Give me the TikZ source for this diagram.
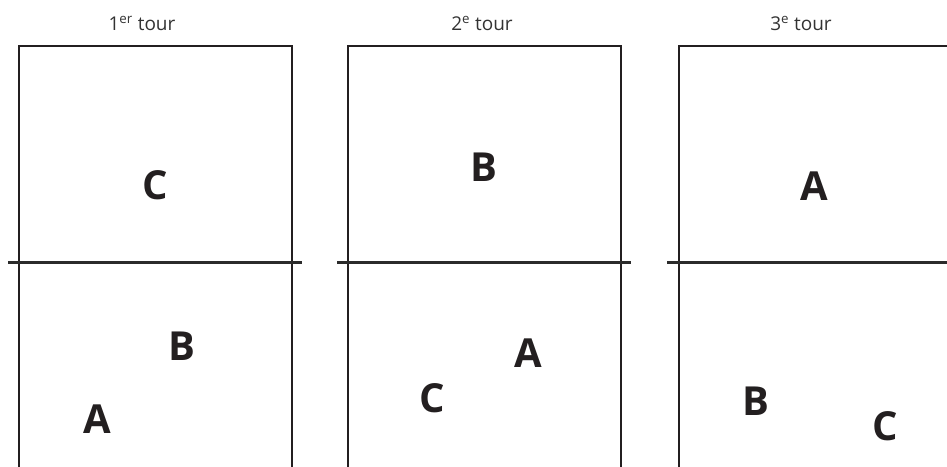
\documentclass[tikz,border=0pt]{standalone}
\usepackage{fontspec}
\setmainfont{Open Sans}
\usepackage{tikz}
\definecolor{court}{HTML}{231F20}
\definecolor{netc}{HTML}{2B2B2B}
\definecolor{titlec}{HTML}{333333}

\begin{document}
\begin{tikzpicture}[x=1pt, y=-1pt,
    player/.style={font=\fontsize{40}{40}\selectfont\bfseries, text=court, inner sep=0pt},
    roundtitle/.style={font=\fontsize{19}{19}\selectfont, text=titlec, anchor=base, inner sep=0pt}]
  \useasboundingbox (0,0) rectangle (947,466);
  \clip (0,0) rectangle (947,466);
  % three half-open courts with the net across (left/right side, net ends)
  \foreach \l/\r/\nl/\nr in {19/292/8/302, 348/621/337/631, 679/955/667/955}{
    \draw[court, line width=1.3pt] (\l,470) -- (\l,46) -- (\r,46) -- (\r,470);
    \draw[netc, line width=3pt] (\nl,262) -- (\nr,262);
  }
  % round titles
  \node[roundtitle] (t1) at (142,30) {1\textsuperscript{er} tour};
  \node[roundtitle] (t2) at (482,30) {2\textsuperscript{e} tour};
  \node[roundtitle] (t3) at (801,30) {3\textsuperscript{e} tour};
  % players, round 1
  \node[player] (c1) at (155,185) {C};
  \node[player] (b1) at (182,346) {B};
  \node[player] (a1) at (97,419) {A};
  % round 2
  \node[player] (b2) at (484,167) {B};
  \node[player] (a2) at (528,353) {A};
  \node[player] (c2) at (432,398) {C};
  % round 3
  \node[player] (a3) at (814,186) {A};
  \node[player] (b3) at (756,401) {B};
  \node[player] (c3) at (885,426) {C};
\end{tikzpicture}
\end{document}
